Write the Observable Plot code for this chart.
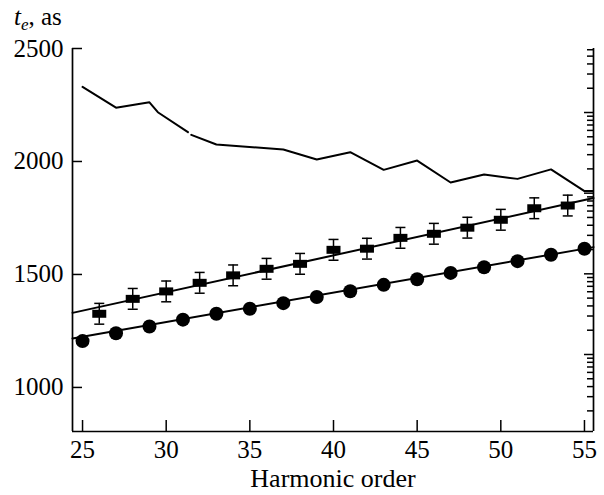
<!DOCTYPE html>
<html>
<head>
<meta charset="utf-8">
<script src="https://cdn.jsdelivr.net/npm/d3@7"></script>
<script src="https://cdn.jsdelivr.net/npm/@observablehq/plot@0.6"></script>
<style>
  html, body { margin: 0; padding: 0; background: white; }
</style>
</head>
<body>
<div id="chart"></div>
<script>
// ---- data ----
const xDomain = [24.4, 55.54];
const yDomain = [805, 2500];
const xTicks = [25, 30, 35, 40, 45, 50, 55];
const yTicks = [1000, 1500, 2000, 2500];
const rightLogDomain = [0.111, 6216];

const harmonicsCircle = [25, 27, 29, 31, 33, 35, 37, 39, 41, 43, 45, 47, 49, 51, 53, 55];
const teCircle = [1205, 1240, 1270, 1300, 1326, 1348, 1373, 1400, 1426, 1454, 1479, 1507, 1532, 1559, 1587, 1614];

const harmonicsSquare = [26, 28, 30, 32, 34, 36, 38, 40, 42, 44, 46, 48, 50, 52, 54];
const teSquare = [1326, 1392, 1425, 1463, 1496, 1525, 1547, 1609, 1614, 1662, 1680, 1707, 1742, 1793, 1805];
const errSquare = [46, 46, 46, 46, 46, 46, 46, 46, 46, 46, 46, 46, 46, 46, 46];

const upperX = [25, 27, 29, 29.5, 31.3, 31.4, 31.5, 33, 37, 39, 41, 43, 45, 47, 49, 51, 53, 55, 55.5];
const upperTe = [2330, 2238, 2262, 2218, 2130, null, 2118, 2075, 2053, 2009, 2041, 1963, 2004, 1907, 1942, 1923, 1965, 1869, 1869];

const fitX = [24.4, 55.54];
const fitCircleTe = [1217, 1621];
const fitSquareTe = [1330, 1838];

// ---- tables ----
const circleData = harmonicsCircle.map((h, i) => ({h, te: teCircle[i]}));
const squareData = harmonicsSquare.map((h, i) => ({h, te: teSquare[i], err: errSquare[i]}));
const upperData = upperX.map((h, i) => ({h, te: upperTe[i]}));
const fitCData = fitX.map((h, i) => ({h, te: fitCircleTe[i]}));
const fitSData = fitX.map((h, i) => ({h, te: fitSquareTe[i]}));

// right-hand logarithmic (unlabelled) axis, expressed in left-axis units
const logScale = d3.scaleLog().domain(rightLogDomain).range(yDomain);
const logTicks = logScale.ticks();
const isMajor = t => Math.abs(Math.log10(t) - Math.round(Math.log10(t))) < 1e-9;
const rightMajor = logTicks.filter(isMajor).map(t => logScale(t));
const rightMinor = logTicks.filter(t => !isMajor(t)).map(t => logScale(t));

const rectSymbol = {draw(ctx) { ctx.rect(-7, -4, 14, 8); }};
const capSymbol = {draw(ctx) { ctx.moveTo(-5, 0); ctx.lineTo(5, 0); }};

const FONT = "Liberation Serif, Times New Roman, serif";
const plain = d => String(d);

const chart = Plot.plot({
  width: 604,
  height: 495,
  marginLeft: 72,
  marginRight: 11,
  marginTop: 48,
  marginBottom: 64,
  x: {domain: xDomain},
  y: {domain: yDomain},
  style: {fontFamily: FONT, fontSize: "25px", color: "black", background: "white", overflow: "visible"},
  marks: [
    Plot.ruleX(xDomain, {stroke: "black", strokeWidth: 1.7}),
    Plot.ruleY([yDomain[0]], {stroke: "black", strokeWidth: 1.7}),
    Plot.axisX({ticks: xTicks, tickSize: -11, tickFormat: () => "", strokeWidth: 1.5, label: null}),
    Plot.axisX({ticks: xTicks, tickSize: 0, tickPadding: 9, tickFormat: plain, fontSize: 25, fontFamily: FONT, label: null}),
    Plot.axisY({ticks: yTicks, tickSize: -10, tickFormat: () => "", strokeWidth: 1.5, label: null}),
    Plot.axisY({ticks: yTicks, tickSize: 0, tickPadding: 9, tickFormat: plain, fontSize: 25, fontFamily: FONT, label: null}),
    Plot.axisY({anchor: "right", ticks: rightMajor, tickSize: -10, tickFormat: () => "", strokeWidth: 1.5, label: null}),
    Plot.axisY({anchor: "right", ticks: rightMinor, tickSize: -7, tickFormat: () => "", strokeWidth: 1.5, label: null}),
    Plot.line(upperData, {x: "h", y: "te", stroke: "black", strokeWidth: 2}),
    Plot.line(fitSData, {x: "h", y: "te", stroke: "black", strokeWidth: 2}),
    Plot.line(fitCData, {x: "h", y: "te", stroke: "black", strokeWidth: 2}),
    Plot.ruleX(squareData, {x: "h", y1: d => d.te - d.err, y2: d => d.te + d.err, stroke: "black", strokeWidth: 1.5}),
    Plot.dot(squareData, {x: "h", y: d => d.te - d.err, symbol: capSymbol, stroke: "black", strokeWidth: 1.5, fill: "none"}),
    Plot.dot(squareData, {x: "h", y: d => d.te + d.err, symbol: capSymbol, stroke: "black", strokeWidth: 1.5, fill: "none"}),
    Plot.dot(squareData, {x: "h", y: "te", symbol: rectSymbol, fill: "black", stroke: "none"}),
    Plot.dot(circleData, {x: "h", y: "te", r: 7, fill: "black", stroke: "none"}),
    Plot.text(["Harmonic order"], {frameAnchor: "bottom", dy: 55, lineAnchor: "bottom", fontSize: 26, fontFamily: FONT, fill: "black"})
  ]
});

document.getElementById("chart").appendChild(chart);

const lbl = d3.select(chart).append("text")
  .attr("x", 14).attr("y", 25)
  .attr("text-anchor", "start")
  .attr("font-family", FONT).attr("font-size", 25).attr("fill", "black");
lbl.append("tspan").attr("font-style", "italic").text("t");
lbl.append("tspan").attr("font-style", "italic").attr("font-size", 17).attr("dy", 5).text("e");
lbl.append("tspan").attr("dy", -5).text(", as");
</script>
</body>
</html>
